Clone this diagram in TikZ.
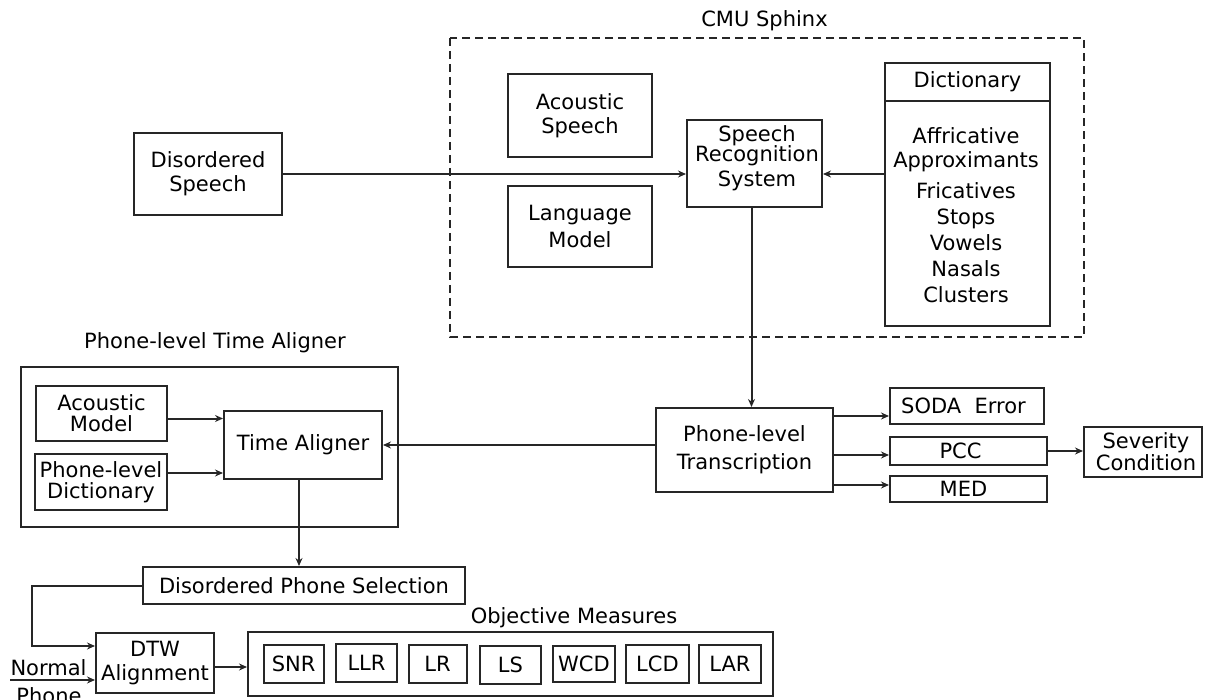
\documentclass[tikz,border=0pt]{standalone}
\usepackage{fontspec}
\setmainfont{DejaVu Sans}
\usetikzlibrary{arrows.meta,calc}

\begin{document}
\begin{tikzpicture}[x=1pt,y=-1pt,
  box/.style={draw=black!85, line width=2pt, rectangle, inner sep=0pt,
    align=center, font=\fontsize{21}{24}\selectfont},
  txt/.style={inner sep=0pt, align=center, font=\fontsize{21}{24}\selectfont},
  arr/.style={draw=black!85, line width=2pt, -{Stealth[length=8pt,width=7pt]}},
  frame/.style={draw=black!85, line width=2pt},
  dashframe/.style={draw=black!85, line width=2.4pt, dash pattern=on 8pt off 5pt},
]
\useasboundingbox (0,0) rectangle (1207,700);

% ---------- CMU Sphinx block ----------
\node[txt, anchor=base] (cmu) at (764.5,27) {CMU Sphinx};
\draw[dashframe] (450,38) rectangle (1084,337);

\node[box, minimum width=144pt, minimum height=83pt] (as) at (580,115.5) {Acoustic\\Speech};
\node[box, minimum width=144pt, minimum height=81pt,
      font=\fontsize{21}{27}\selectfont] (lm) at (580,226.5) {Language\\Model};
\node[box, minimum width=135pt, minimum height=87pt] (srs) at (754.5,163.5) {};
\node[txt] (srstext) at (757,158.5) {Speech\\[-4pt]Recognition\\[1pt]System};

\node[box, minimum width=165pt, minimum height=38pt] (dicthead) at (967.5,82) {Dictionary};
\node[box, minimum width=165pt, minimum height=225pt] (dictbody) at (967.5,213.5) {};
\node[txt, font=\fontsize{21}{26}\selectfont] (dicttext) at (966,215)
  {Affricative\\[-2pt]Approximants\\[5pt]Fricatives\\Stops\\Vowels\\Nasals\\Clusters};

\node[box, minimum width=148pt, minimum height=82pt] (ds) at (208,174) {Disordered\\Speech};

\draw[arr] (ds.east) -- (ds.east -| srs.west);
\draw[arr] (dictbody.west |- ds.east) -- (srs.east |- ds.east);

% ---------- transcription and scores ----------
\node[box, minimum width=177pt, minimum height=84pt,
      font=\fontsize{21}{28}\selectfont] (plt) at (744.5,450) {Phone-level\\Transcription};
\node[box, minimum width=154pt, minimum height=36pt] (soda) at (967,406) {SODA\ \ Error\hspace*{7pt}};
\node[box, minimum width=157pt, minimum height=28pt] (pcc) at (968.5,451) {PCC\hspace*{16pt}};
\node[box, minimum width=157pt, minimum height=26pt] (med) at (968.5,489) {MED\hspace*{10pt}};
\node[box, minimum width=118pt, minimum height=50pt,
      font=\fontsize{21}{22}\selectfont] (sev) at (1143,452) {\hspace*{6pt}Severity\\\hspace*{6pt}Condition};

\coordinate (sodain) at ([yshift=-10pt]soda.west);
\coordinate (pccin) at ([yshift=-4pt]pcc.west);
\coordinate (medin) at ([yshift=4pt]med.west);

\draw[arr] ([xshift=-3pt]srs.south) -- ([xshift=-3pt]srs.south |- plt.north);
\draw[arr] (plt.east |- sodain) -- (sodain);
\draw[arr] (plt.east |- pccin) -- (pccin);
\draw[arr] (plt.east |- medin) -- (medin);
\draw[arr] (pcc.east) -- (pcc.east -| sev.west);

% ---------- phone-level time aligner ----------
\node[txt] (plta) at (215,343) {Phone-level Time Aligner};
\draw[frame] (21,367) rectangle (398,527);
\node[box, minimum width=131pt, minimum height=55pt,
      font=\fontsize{21}{21}\selectfont] (am) at (101.5,413.5) {Acoustic\\Model};
\node[box, minimum width=132pt, minimum height=56pt,
      font=\fontsize{21}{21}\selectfont] (pld) at (101,482) {Phone-level\\Dictionary};
\node[box, minimum width=158pt, minimum height=68pt] (ta) at (303,445) {Time Aligner};

\coordinate (amout) at ([yshift=-5pt]am.east);
\coordinate (pldout) at ([yshift=9pt]pld.east);
\draw[arr] (amout) -- (amout -| ta.west);
\draw[arr] (pldout) -- (pldout -| ta.west);
\draw[arr] (plt.west |- ta.east) -- (ta.east);

% ---------- phone selection and objective measures ----------
\node[box, minimum width=322pt, minimum height=37pt] (dps) at (304,585.5) {Disordered Phone Selection};
\coordinate (taout) at ([xshift=-4pt]ta.south);
\draw[arr] (taout) -- (taout |- dps.north);

\node[box, minimum width=118pt, minimum height=60pt] (dtw) at (155,663) {DTW\\Alignment};
\coordinate (dtwin) at ([yshift=17pt]dtw.west);
\draw[arr] (dps.west) -- ++(-110,0) |- (dtwin);

\coordinate (np) at (10,680);
\node[txt, anchor=base] (normal) at (48.5,675) {Normal};
\node[txt, anchor=base] (phone) at (49,703) {Phone};
\draw[arr] (np) -- (np -| dtw.west);

\node[txt] (omtitle) at (574,618) {Objective Measures};
\node[box, minimum width=525pt, minimum height=64pt] (om) at (510.5,664) {};
\coordinate (dtwout) at ([yshift=-4pt]dtw.east);
\draw[arr] (dtwout) -- (dtwout -| om.west);

\node[box, minimum width=60pt, minimum height=38pt] (snr) at (293.6,664) {SNR};
\node[box, minimum width=61pt, minimum height=38pt] (llr) at (366.5,663) {LLR};
\node[box, minimum width=58pt, minimum height=38pt] (lr)  at (437.5,664) {LR};
\node[box, minimum width=61pt, minimum height=38pt] (ls)  at (510.5,664.5) {LS};
\node[box, minimum width=62pt, minimum height=36pt] (wcd) at (584,664) {WCD};
\node[box, minimum width=63pt, minimum height=38pt] (lcd) at (657.5,664) {LCD};
\node[box, minimum width=61.5pt, minimum height=38pt] (lar) at (730,663.5) {LAR};
\end{tikzpicture}
\end{document}
